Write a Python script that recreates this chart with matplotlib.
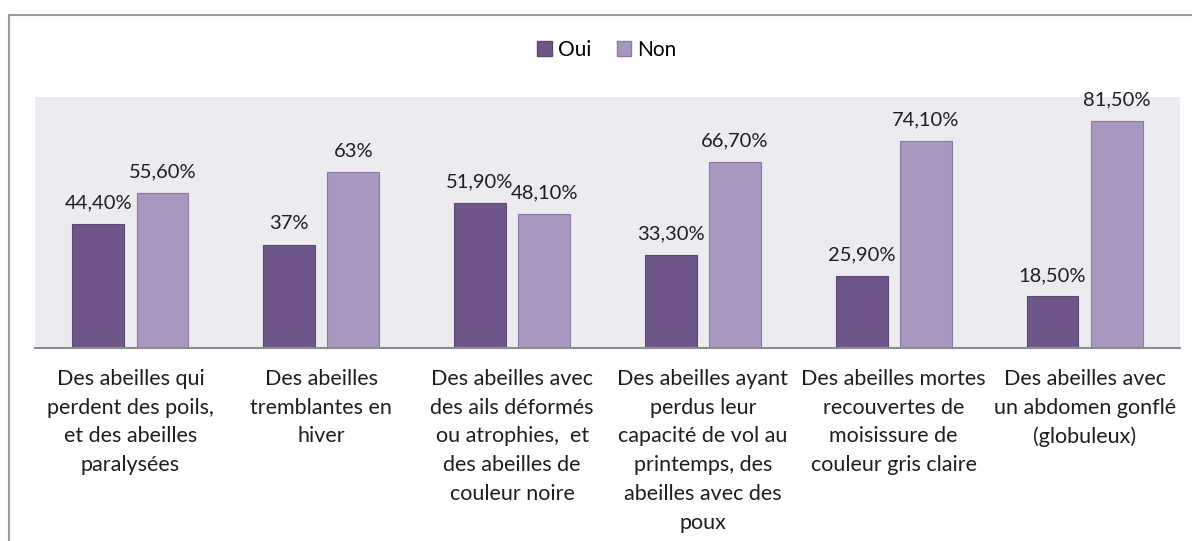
import numpy as np
import matplotlib.pyplot as plt
from matplotlib.patches import Rectangle
from matplotlib.lines import Line2D

plt.rcParams['font.family'] = ['Lato', 'DejaVu Sans']

# data
categories = [
    "Des abeilles qui\nperdent des poils,\net des abeilles\nparalysées",
    "Des abeilles\ntremblantes en\nhiver",
    "Des abeilles avec\ndes ails déformés\nou atrophies,  et\ndes abeilles de\ncouleur noire",
    "Des abeilles ayant\nperdus leur\ncapacité de vol au\nprintemps, des\nabeilles avec des\npoux",
    "Des abeilles mortes\nrecouvertes de\nmoisissure de\ncouleur gris claire",
    "Des abeilles avec\nun abdomen gonflé\n(globuleux)",
]
oui = [44.4, 37, 51.9, 33.3, 25.9, 18.5]
non = [55.6, 63, 48.1, 66.7, 74.1, 81.5]
oui_labels = ["44,40%", "37%", "51,90%", "33,30%", "25,90%", "18,50%"]
non_labels = ["55,60%", "63%", "48,10%", "66,70%", "74,10%", "81,50%"]

c_oui = "#6f5689"
c_non = "#a898bf"
text_col = "#1e1e1e"

fig = plt.figure(figsize=(11.92, 5.41), dpi=100)
ax = fig.add_axes([35 / 1192, 1 - 348 / 541, 1145 / 1192, 251 / 541])
ax.set_facecolor("#ecebf0")

x = np.arange(len(categories))
w = 0.272
b1 = ax.bar(x - 0.168, oui, w, color=c_oui, edgecolor="#5c4676", linewidth=0.8)
b2 = ax.bar(x + 0.168, non, w, color=c_non, edgecolor="#8a7aa3", linewidth=0.8)

for rects, labs in ((b1, oui_labels), (b2, non_labels)):
    for r, lab in zip(rects, labs):
        ax.annotate(lab, (r.get_x() + r.get_width() / 2, r.get_height()),
                    xytext=(0, 9), textcoords="offset points",
                    ha="center", va="bottom", fontsize=14.5, color=text_col)

ax.set_xlim(-0.5, len(categories) - 0.5)
ax.set_ylim(0, 90)
ax.set_yticks([])
ax.set_xticks(x)
ax.set_xticklabels(categories, fontsize=15.5, color=text_col, linespacing=1.55)
ax.tick_params(axis="x", length=0, pad=15)
for s in ["top", "right", "left"]:
    ax.spines[s].set_visible(False)
ax.spines["bottom"].set_color("#8c8c8c")
ax.spines["bottom"].set_linewidth(1.5)

# legend
handles = [Rectangle((0, 0), 1, 1, facecolor=c_oui, edgecolor="#5c4676"),
           Rectangle((0, 0), 1, 1, facecolor=c_non, edgecolor="#8a7aa3")]
fig.legend(handles, ["Oui", "Non"], loc="center", bbox_to_anchor=(607 / 1192, 1 - 50 / 541),
           ncol=2, frameon=False, fontsize=15, handlelength=0.7, handleheight=0.7,
           handletextpad=0.3, columnspacing=1.2)

# outer frame
fig.add_artist(Line2D([9 / 1192, 1], [1 - 15 / 541, 1 - 15 / 541], color="#9a9a9a", lw=1.5))
fig.add_artist(Line2D([9 / 1192, 9 / 1192], [0, 1 - 15 / 541], color="#9a9a9a", lw=1.5))

fig.savefig("out.png", dpi=100)
